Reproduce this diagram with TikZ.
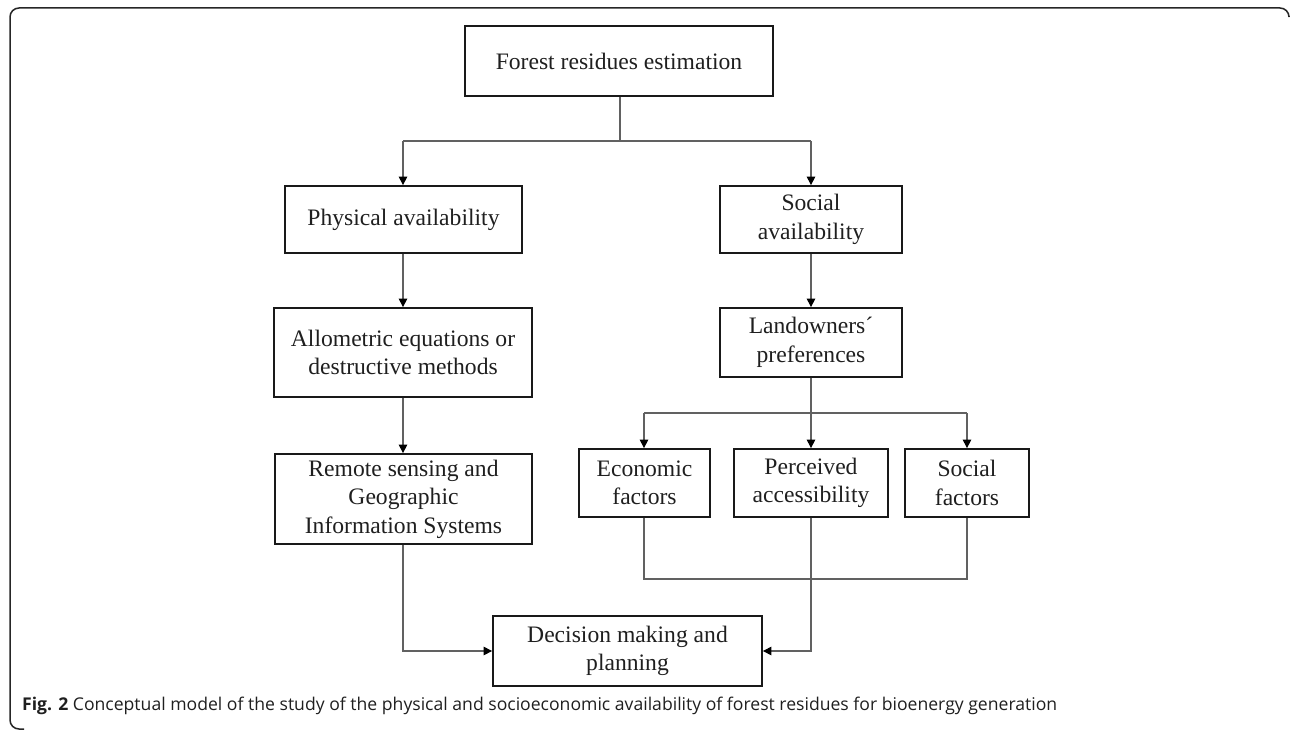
\documentclass[tikz,border=0pt]{standalone}
\usepackage{fontspec}
\setmainfont{Liberation Serif}
\newfontfamily\capfont{Open Sans}
\usetikzlibrary{arrows.meta}
\begin{document}
\begin{tikzpicture}[x=1pt,y=-1pt,
  box/.style={draw=black!90, line width=1.8pt, align=center, inner sep=0pt,
    font=\fontsize{23.6}{28.4}\selectfont, text=black!88},
  conn/.style={draw=black!62, line width=1.2pt},
  arr/.style={conn, -{Triangle[length=8.5pt,width=8.5pt,color=black]}}]
\useasboundingbox (0,0) rectangle (1290,730);
% outer frame
\draw[line width=1.5pt, black!85, rounded corners=9pt] (1289,16) -- (1289,8) -- (10,8) -- (10,729) -- (24,729);
% boxes
\node[box, minimum width=308pt, minimum height=70pt] (forest) at (619,61) {Forest residues estimation};
\node[box, minimum width=237pt, minimum height=67pt] (phys) at (403.5,219.5) {Physical availability};
\node[box, minimum width=182pt, minimum height=67pt] (social) at (811,219.5) {Social\\availability};
\node[box, minimum width=258pt, minimum height=89pt] (allo) at (403,352.5) {Allometric equations or\\destructive methods};
\node[box, minimum width=257pt, minimum height=90pt] (remote) at (403.5,499) {Remote sensing and\\Geographic\\Information Systems};
\node[box, minimum width=182pt, minimum height=69pt] (land) at (811,342.5) {Landowners´\\preferences};
\node[box, minimum width=131pt, minimum height=68pt] (econ) at (644.5,483) {Economic\\factors};
\node[box, minimum width=154pt, minimum height=68pt] (perc) at (811,483) {Perceived\\accessibility};
\node[box, minimum width=124pt, minimum height=68pt] (socf) at (967,483) {Social\\factors};
\node[box, minimum width=269pt, minimum height=70pt] (dec) at (627.5,651) {Decision making and\\planning};
% coordinates
\coordinate (j1) at (620,141);
\coordinate (j1l) at (403,141);
\coordinate (j1r) at (811,141);
\coordinate (j2) at (811,413);
\coordinate (j2l) at (644,413);
\coordinate (j2r) at (967,413);
\coordinate (b1) at (644,579);
\coordinate (b2) at (967,579);
\coordinate (dl) at (403,651);
\coordinate (dr) at (811,651);
% connectors
\draw[conn] (forest.south -| j1) -- (j1);
\draw[conn] (j1l) -- (j1r);
\draw[arr] (j1l) -- (j1l |- phys.north);
\draw[arr] (j1r) -- (j1r |- social.north);
\draw[arr] (phys.south -| j1l) -- (j1l |- allo.north);
\draw[arr] (allo.south -| j1l) -- (j1l |- remote.north);
\draw[arr] (social.south) -- (land.north);
\draw[arr] (land.south) -- (perc.north);
\draw[conn] (j2l) -- (j2r);
\draw[arr] (j2l) -- (j2l |- econ.north);
\draw[arr] (j2r) -- (j2r |- socf.north);
\draw[conn] (econ.south -| b1) -- (b1) -- (b2) -- (socf.south -| b2);
\draw[arr] (remote.south -| dl) -- (dl) -- (dec.west);
\draw[arr] (perc.south) -- (dr) -- (dec.east);
% caption
\node[anchor=base west, inner sep=0pt, text=black!88, font=\capfont\fontsize{17.6}{21}\selectfont] (cap) at (22,710)
  {\textbf{Fig. 2} Conceptual model of the study of the physical and socioeconomic availability of forest residues for bioenergy generation};
\end{tikzpicture}
\end{document}
